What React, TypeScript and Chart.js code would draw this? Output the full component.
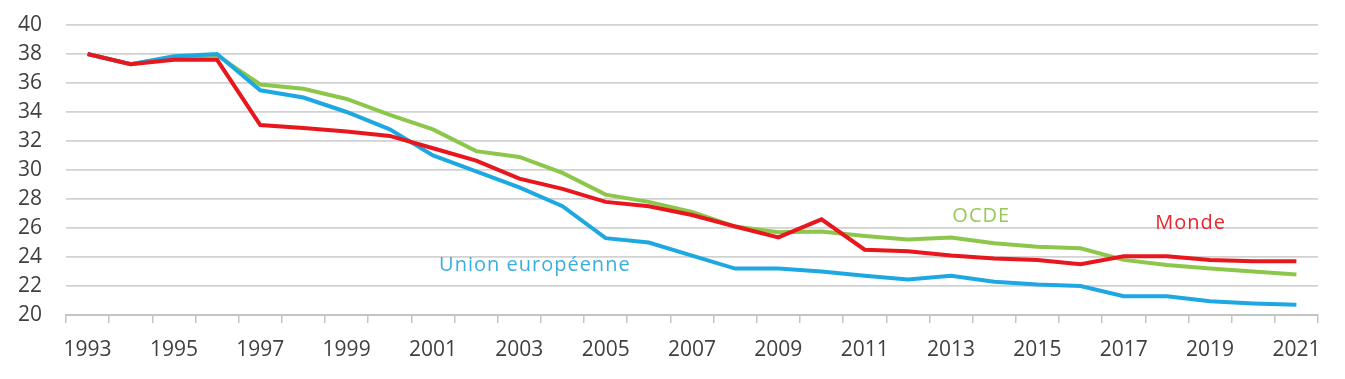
import React, { useEffect, useRef } from "react";
import { Chart, registerables } from "chart.js";

Chart.register(...registerables);

const years = ["1993","1994","1995","1996","1997","1998","1999","2000","2001","2002","2003","2004","2005","2006","2007","2008","2009","2010","2011","2012","2013","2014","2015","2016","2017","2018","2019","2020","2021"];

const monde = [38.0,37.3,37.6,37.6,33.1,32.9,32.65,32.35,31.5,30.65,29.4,28.7,27.8,27.5,26.9,26.1,25.35,26.6,24.5,24.4,24.1,23.9,23.8,23.5,24.05,24.05,23.8,23.7,23.7];
const ue = [38.0,37.3,37.85,38.0,35.5,35.0,34.0,32.8,31.0,29.9,28.8,27.5,25.3,25.0,24.1,23.2,23.2,23.0,22.7,22.45,22.7,22.3,22.1,22.0,21.3,21.3,20.95,20.8,20.7];
const ocde = [38.0,37.3,37.8,37.9,35.9,35.6,34.9,33.8,32.8,31.3,30.9,29.8,28.3,27.8,27.1,26.1,25.7,25.75,25.45,25.2,25.35,24.95,24.7,24.6,23.8,23.45,23.2,23.0,22.8];

const seriesNames = ["Monde", "Union européenne", "OCDE"];
const seriesColors = ["#e8161d", "#1ea8e2", "#8cc64a"];
const labelColors = ["#e8242c", "#3aade0", "#96c95a"];

// annotation anchors in data coordinates (category index, value)
const annotationText = ["Monde", "Union européenne", "OCDE"];
const annotationX = [25.55, 10.36, 20.7];
const annotationY = [26.3, 23.4, 26.78];

const annotationPlugin = {
  id: "seriesLabels",
  afterDatasetsDraw(chart: any) {
    const { ctx, scales } = chart;
    ctx.save();
    ctx.font = "20px 'Open Sans'";
    ctx.textAlign = "center";
    ctx.textBaseline = "middle";
    try { (ctx as any).letterSpacing = "1px"; } catch (e) {}
    annotationText.forEach((t, i) => {
      ctx.fillStyle = labelColors[i];
      ctx.fillText(t, scales.x.getPixelForValue(annotationX[i]), scales.y.getPixelForValue(annotationY[i]));
    });
    ctx.restore();
  },
};

export default function App() {
  const ref = useRef<HTMLCanvasElement>(null);
  useEffect(() => {
    if (!ref.current) return;
    const data = [monde, ue, ocde];
    const chart = new Chart(ref.current, {
      type: "line",
      data: {
        labels: years,
        datasets: data.map((d, i) => ({
          label: seriesNames[i],
          data: d,
          borderColor: seriesColors[i],
          backgroundColor: seriesColors[i],
          borderWidth: 4,
          pointRadius: 0,
          tension: 0,
          fill: false,
        })),
      },
      options: {
        animation: false,
        responsive: false,
        maintainAspectRatio: false,
        layout: { padding: { top: 25, right: 27, left: 0, bottom: 0 } },
        plugins: { legend: { display: false }, tooltip: { enabled: false } },
        scales: {
          x: {
            type: "category",
            offset: true,
            grid: {
              offset: true,
              drawOnChartArea: false,
              drawTicks: true,
              tickLength: 8,
              color: "#c4c4c4",
              lineWidth: 1.5,
            },
            border: { display: true, color: "#c4c4c4", width: 2 },
            ticks: {
              autoSkip: false,
              maxRotation: 0,
              padding: 14,
              color: "#404040",
              font: { family: "'Open Sans'", size: 21 },
              callback: (v: any, i: number) => (i % 2 === 0 ? years[i] : ""),
            },
            afterFit: (s: any) => { s.height = 64; },
          },
          y: {
            min: 20,
            max: 40,
            ticks: {
              stepSize: 2,
              autoSkip: false,
              padding: 24,
              color: "#404040",
              font: { family: "'Open Sans'", size: 21 },
            },
            grid: { drawTicks: false, color: "#d2d2d2", lineWidth: 1.8 },
            border: { display: false },
            afterFit: (s: any) => { s.width = 66; s.paddingTop = 0; s.paddingBottom = 0; },
          },
        },
      },
      plugins: [annotationPlugin],
    });
    return () => chart.destroy();
  }, []);
  return (
    <div style={{ position: "fixed", left: 0, top: 0, width: 1345, height: 379, background: "#fff" }}>
      <canvas ref={ref} width={1345} height={379} style={{ width: 1345, height: 379 }} />
    </div>
  );
}
